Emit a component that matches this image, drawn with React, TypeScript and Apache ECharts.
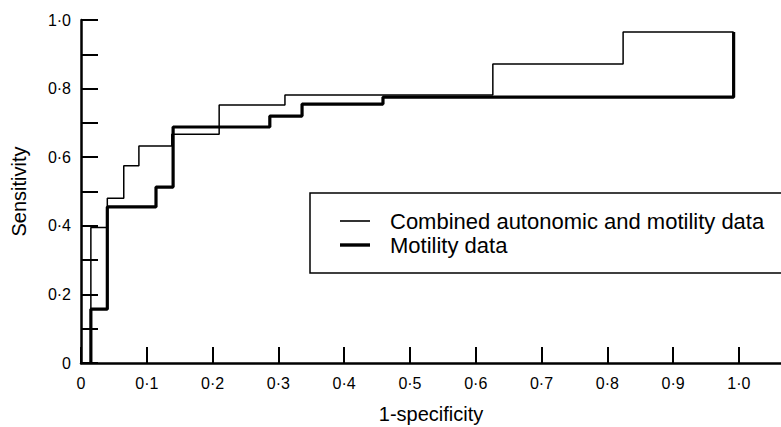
import React, { useEffect, useRef } from 'react';
import * as echarts from 'echarts';

const FONT = '"Liberation Sans", Arial, Helvetica, sans-serif';

const seriesNames = ['Combined autonomic and motility data', 'Motility data'];

const xTicks = [0, 0.1, 0.2, 0.3, 0.4, 0.5, 0.6, 0.7, 0.8, 0.9, 1.0];
const yTicks = [0, 0.1, 0.2, 0.3, 0.4, 0.5, 0.6, 0.7, 0.8, 0.9, 1.0];
const yLabelTicks = [0, 0.2, 0.4, 0.6, 0.8, 1.0];

// ROC step curves: [1-specificity, sensitivity] corner points
const combined: [number, number][] = [
  [0.015, 0], [0.015, 0.395], [0.04, 0.395], [0.04, 0.48],
  [0.065, 0.48], [0.065, 0.575], [0.088, 0.575], [0.088, 0.633],
  [0.138, 0.633], [0.138, 0.667], [0.21, 0.667], [0.21, 0.752],
  [0.31, 0.752], [0.31, 0.781], [0.626, 0.781], [0.626, 0.872],
  [0.824, 0.872], [0.824, 0.965], [0.992, 0.965],
];

const motility: [number, number][] = [
  [0.015, 0], [0.015, 0.157], [0.04, 0.157], [0.04, 0.455],
  [0.114, 0.455], [0.114, 0.513], [0.14, 0.513], [0.14, 0.688],
  [0.287, 0.688], [0.287, 0.72], [0.336, 0.72], [0.336, 0.755],
  [0.459, 0.755], [0.459, 0.775], [0.992, 0.775], [0.992, 0.965],
];

function fmt(v: number): string {
  if (Math.abs(v) < 1e-9) return '0';
  return v.toFixed(1).replace('.', '\u00b7');
}

export default function App() {
  const ref = useRef<HTMLDivElement>(null);
  useEffect(() => {
    if (!ref.current) return;
    const chart = echarts.init(ref.current, null, { renderer: 'svg' });
    chart.setOption({
      animation: false,
      backgroundColor: '#ffffff',
      textStyle: { fontFamily: FONT, color: '#000' },
      grid: { left: 81, right: 0, top: 20, bottom: 64, containLabel: false, outerBoundsMode: 'none' },
      legend: {
        orient: 'vertical',
        left: 310,
        top: 193,
        data: [
          { name: seriesNames[0], icon: 'path://M0,0H30V1.6H0Z' },
          { name: seriesNames[1], icon: 'path://M0,0H30V3.4H0Z' },
        ],
        selectedMode: false,
        itemWidth: 30,
        itemHeight: 14,
        itemGap: 2,
        padding: [17, 60, 17, 30],
        borderColor: '#000',
        borderWidth: 1.5,
        itemStyle: { color: '#000', borderWidth: 0 },
        textStyle: { fontSize: 22, color: '#000', fontFamily: FONT, padding: [0, 0, 0, 15] },
      },
      xAxis: {
        type: 'value',
        min: 0,
        max: 1.064,
        interval: 0.1,
        name: '1-specificity',
        nameLocation: 'middle',
        nameGap: 41,
        nameTextStyle: { fontSize: 20, color: '#000', fontFamily: FONT },
        axisLine: { lineStyle: { color: '#000', width: 2.5 } },
        axisTick: { inside: true, length: 16, customValues: xTicks, lineStyle: { color: '#000', width: 2 } },
        axisLabel: { customValues: xTicks, formatter: (v: number) => fmt(v), fontSize: 16, color: '#000', margin: 12, fontFamily: FONT },
        splitLine: { show: false },
      },
      yAxis: {
        type: 'value',
        min: 0,
        max: 1,
        interval: 0.1,
        name: 'Sensitivity',
        nameLocation: 'middle',
        nameGap: 52,
        nameRotate: 90,
        nameTextStyle: { fontSize: 20, color: '#000', fontFamily: FONT },
        axisLine: { show: true, lineStyle: { color: '#000', width: 2.5 } },
        axisTick: { show: true, inside: true, length: 17, customValues: yTicks, lineStyle: { color: '#000', width: 2 } },
        axisLabel: { customValues: yLabelTicks, formatter: (v: number) => fmt(v), fontSize: 16, color: '#000', margin: 10, fontFamily: FONT },
        splitLine: { show: false },
      },
      series: [
        {
          type: 'line',
          name: seriesNames[0],
          data: combined,
          symbol: 'none',
          lineStyle: { color: '#000', width: 1.5 },
          itemStyle: { color: '#000' },
          z: 3,
        },
        {
          type: 'line',
          name: seriesNames[1],
          data: motility,
          symbol: 'none',
          lineStyle: { color: '#000', width: 3.2 },
          itemStyle: { color: '#000' },
          z: 4,
        },
      ],
    });
    return () => chart.dispose();
  }, []);
  return (
    <div
      ref={ref}
      style={{ position: 'fixed', left: 0, top: 0, width: 781, height: 427, background: '#fff' }}
    />
  );
}
